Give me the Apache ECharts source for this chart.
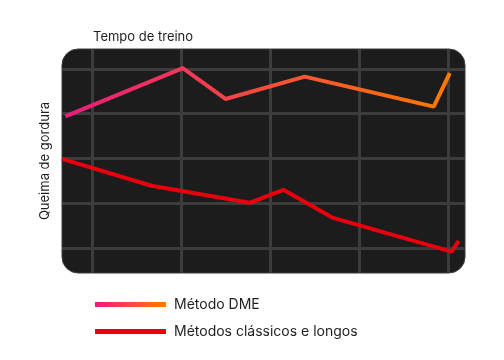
<!DOCTYPE html>
<html>
<head>
<meta charset="utf-8">
<script src="https://cdn.jsdelivr.net/npm/echarts@6/dist/echarts.min.js"></script>
<style>html,body{margin:0;padding:0;background:#fff}#c{width:504px;height:360px}</style>
</head>
<body>
<div id="c"></div>
<script>
// Data (x: tempo de treino, y: queima de gordura; arbitrary units, grid lines at 1..5)
const seriesNames = ['Método DME', 'Métodos clássicos e longos'];
const dmeX = [0.70, 2.02, 2.50, 3.39, 4.84, 5.02];
const dmeY = [3.94, 5.02, 4.33, 4.83, 4.16, 4.91];
const classicX = [0.663, 1.67, 2.77, 3.15, 3.70, 5.04, 5.12];
const classicY = [2.99, 2.39, 2.01, 2.30, 1.68, 0.92, 1.16];
const gridX = [1, 2, 3, 4, 5];
const gridY = [1, 2, 3, 4, 5];
const xTitle = 'Tempo de treino';
const yTitle = 'Queima de gordura';

const pair = (xs, ys) => xs.map((x, i) => [x, ys[i]]);
const dmeGrad = new echarts.graphic.LinearGradient(0, 0, 1, 0, [
  { offset: 0, color: '#EC1A7E' },
  { offset: 1, color: '#FF7A00' }
]);

const GL = 62, GT = 49, GW = 403, GH = 224;
const chart = echarts.init(document.getElementById('c'), null, { renderer: 'canvas' });
chart.setOption({
  animation: false,
  textStyle: { fontFamily: 'Inter' },
  title: {
    text: xTitle, left: 88, top: 26,
    textStyle: { fontFamily: 'Inter', fontSize: 13, fontWeight: 'normal', color: '#1f1f1f' }
  },
  graphic: [{
    type: 'rect', z: -10,
    shape: { x: GL, y: GT, width: GW, height: GH, r: 16 },
    style: { fill: '#1c1c1c', stroke: '#3a3a3a', lineWidth: 1 }
  }],
  grid: { left: GL, top: GT, width: GW, height: GH },
  xAxis: {
    type: 'value', min: 0.663, max: 5.191,
    axisLine: { show: false }, axisTick: { show: false }, axisLabel: { show: false },
    splitLine: { show: false }
  },
  yAxis: {
    type: 'value', min: 0.441, max: 5.447,
    name: yTitle, nameLocation: 'middle', nameRotate: 90, nameGap: 10,
    nameTextStyle: { fontFamily: 'Inter', fontSize: 13, color: '#1f1f1f' },
    axisLine: { show: false }, axisTick: { show: false }, axisLabel: { show: false },
    splitLine: { show: false }
  },
  legend: {
    orient: 'vertical', left: 95, top: 296, icon: 'rect', padding: 0,
    itemWidth: 71, itemHeight: 5, itemGap: 10,
    textStyle: { fontFamily: 'Inter', fontSize: 14, color: '#1f1f1f', lineHeight: 17, padding: [0, 0, 0, 3] },
    data: seriesNames
  },
  series: [
    {
      name: 'grid', type: 'line', data: [], z: 1, silent: true,
      markLine: {
        z: 1, silent: true, symbol: ['none', 'none'], animation: false,
        label: { show: false },
        lineStyle: { color: '#3c3c3c', width: 3, type: 'solid' },
        emphasis: { disabled: true },
        data: gridX.map(v => ({ xAxis: v })).concat(gridY.map(v => ({ yAxis: v })))
      }
    },
    {
      name: seriesNames[0], type: 'line', data: pair(dmeX, dmeY), z: 6,
      showSymbol: false, symbol: 'none',
      lineStyle: { width: 4, color: dmeGrad },
      itemStyle: { color: dmeGrad }
    },
    {
      name: seriesNames[1], type: 'line', data: pair(classicX, classicY), z: 6,
      showSymbol: false, symbol: 'none',
      lineStyle: { width: 4, color: '#E8000E' },
      itemStyle: { color: '#E8000E' }
    }
  ]
});
</script>
</body>
</html>
